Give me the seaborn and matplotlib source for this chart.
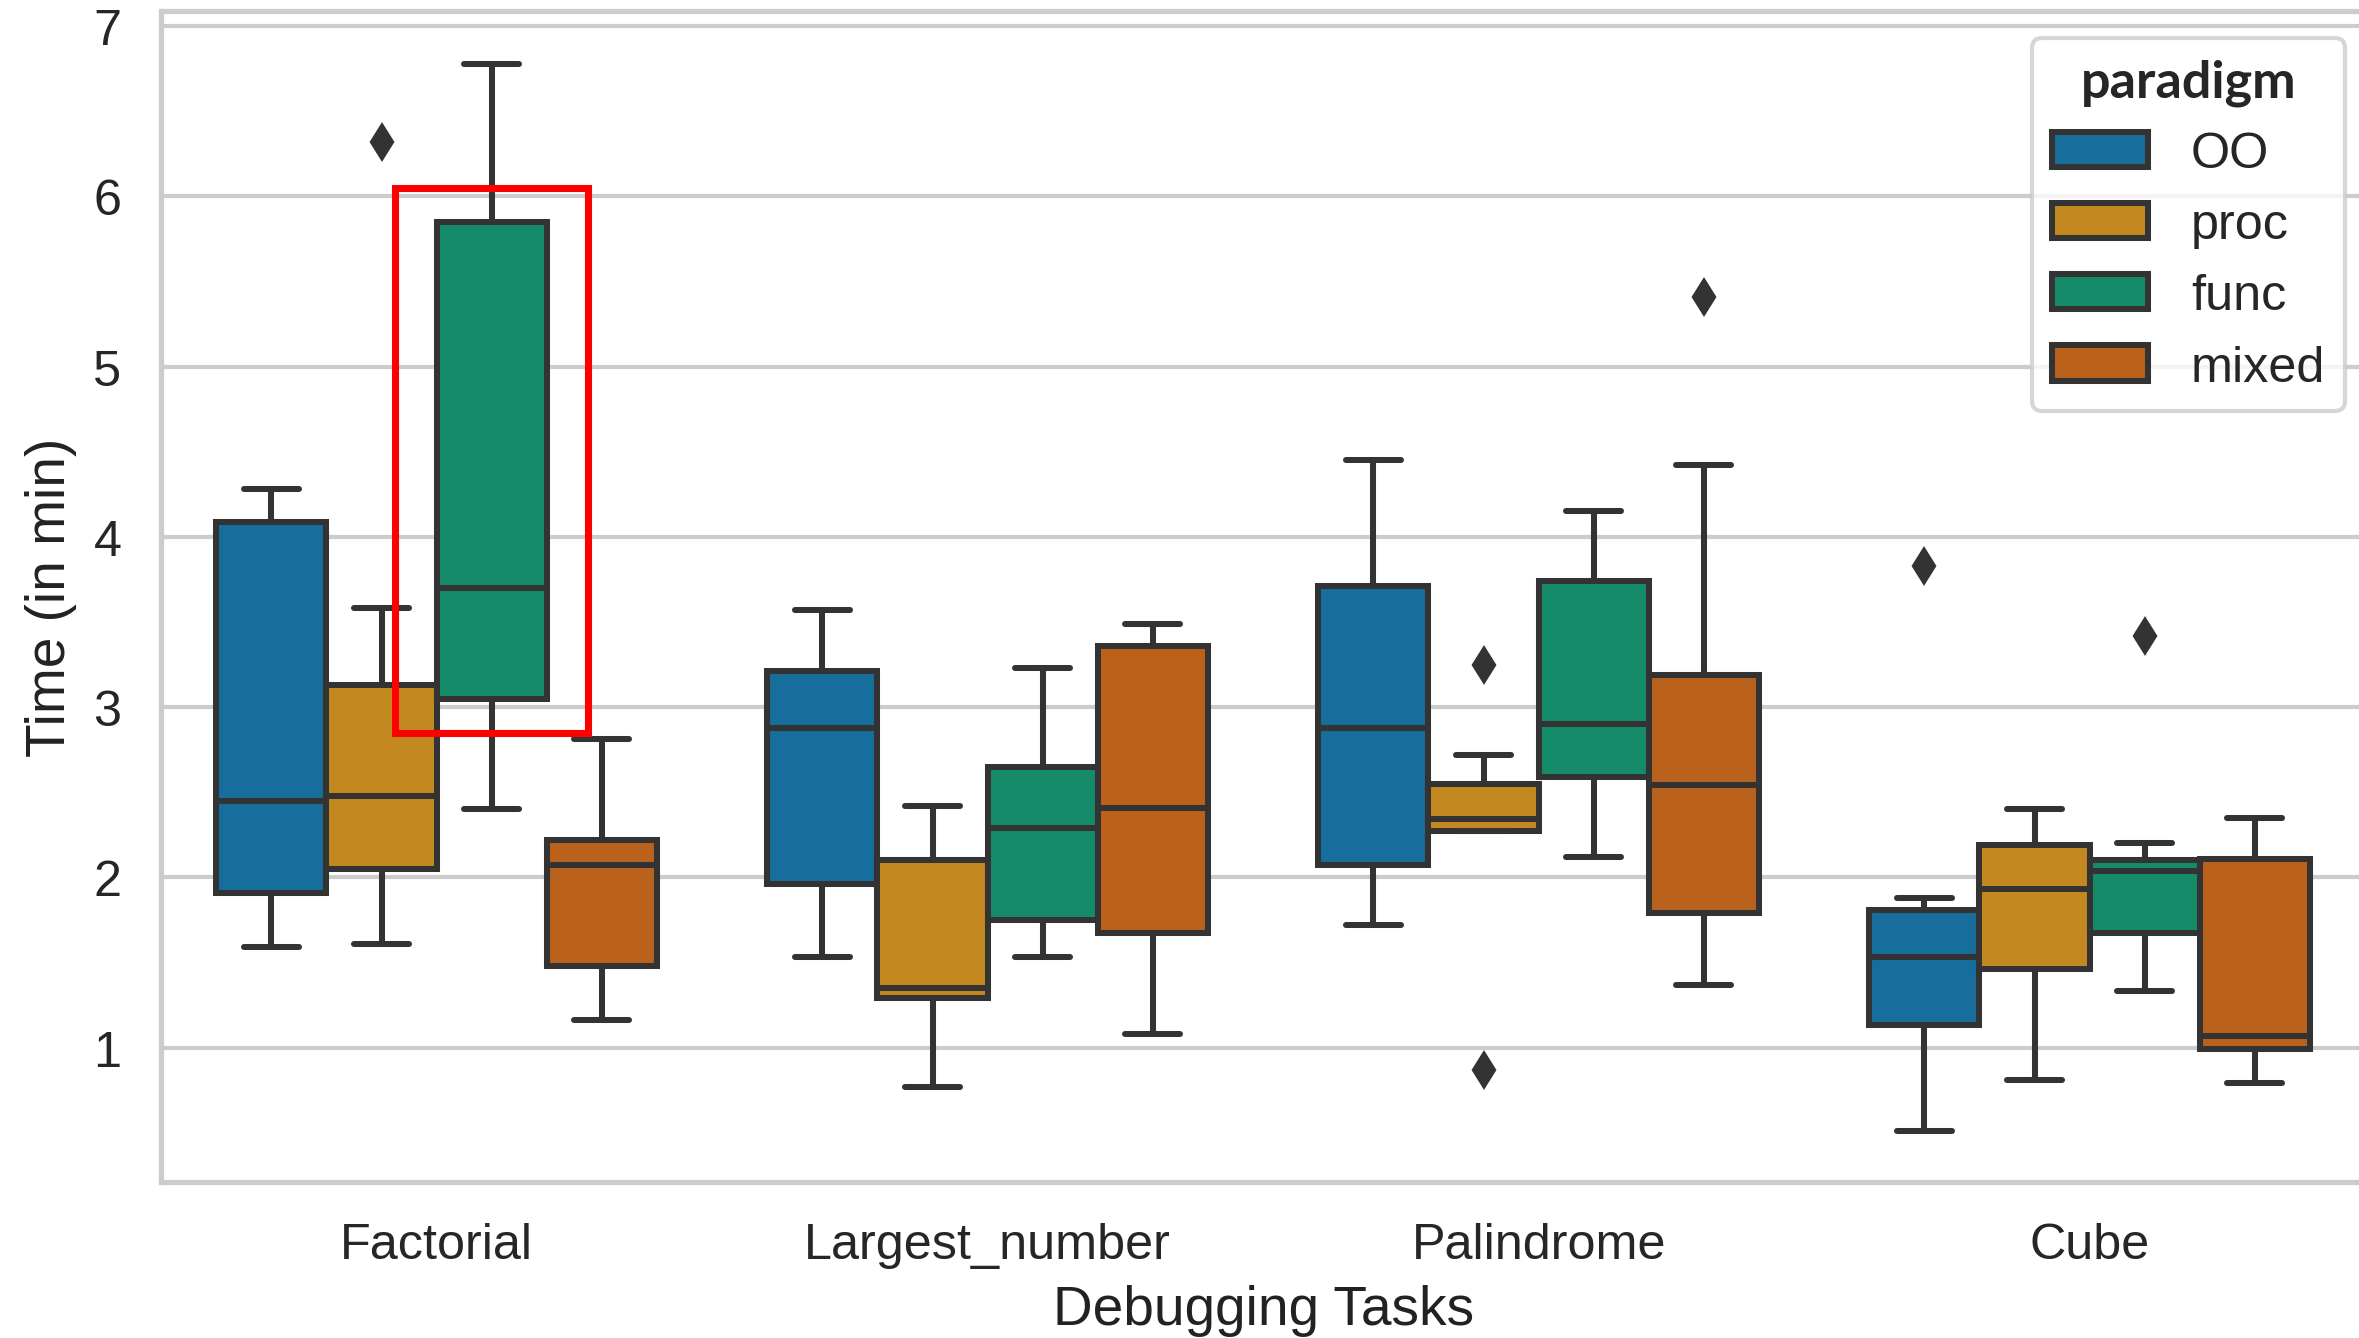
import pandas as pd
import matplotlib.pyplot as plt
import matplotlib.patches as mpatches
import seaborn as sns

tasks = ["Factorial", "Largest_number", "Palindrome", "Cube"]
paradigms = ["OO", "proc", "func", "mixed"]

# box stats, one value per task
# (whisker low, q1, median, q3, whisker high, outliers)
oo_lo = [1.59, 1.53, 1.72, 0.51]
oo_q1 = [1.91, 1.96, 2.07, 1.13]
oo_med = [2.45, 2.88, 2.88, 1.53]
oo_q3 = [4.09, 3.21, 3.71, 1.81]
oo_hi = [4.28, 3.57, 4.45, 1.88]
oo_out = [[], [], [], [3.83]]

proc_lo = [1.61, 0.77, 2.27, 0.81]
proc_q1 = [2.05, 1.29, 2.27, 1.46]
proc_med = [2.48, 1.35, 2.34, 1.93]
proc_q3 = [3.13, 2.10, 2.55, 2.19]
proc_hi = [3.58, 2.42, 2.72, 2.40]
proc_out = [[6.32], [], [0.87, 3.25], []]

func_lo = [2.40, 1.53, 2.12, 1.33]
func_q1 = [3.05, 1.75, 2.59, 1.67]
func_med = [3.70, 2.29, 2.90, 2.04]
func_q3 = [5.85, 2.65, 3.74, 2.10]
func_hi = [6.78, 3.23, 4.15, 2.20]
func_out = [[], [], [], [3.42]]

mixed_lo = [1.16, 1.08, 1.37, 0.79]
mixed_q1 = [1.48, 1.67, 1.79, 0.99]
mixed_med = [2.07, 2.41, 2.54, 1.07]
mixed_q3 = [2.22, 3.36, 3.19, 2.11]
mixed_hi = [2.81, 3.49, 4.42, 2.35]
mixed_out = [[], [], [5.41], []]

stats = {
    "OO": (oo_lo, oo_q1, oo_med, oo_q3, oo_hi, oo_out),
    "proc": (proc_lo, proc_q1, proc_med, proc_q3, proc_hi, proc_out),
    "func": (func_lo, func_q1, func_med, func_q3, func_hi, func_out),
    "mixed": (mixed_lo, mixed_q1, mixed_med, mixed_q3, mixed_hi, mixed_out),
}


def sample(lo, q1, med, q3, hi, outs):
    # 9 values -> quartiles land exactly on positions 2, 4, 6
    low_outs = sorted(v for v in outs if v < q1)
    high_outs = sorted(v for v in outs if v > q3)
    lower = (low_outs + [lo, lo])[:2]
    upper = ([hi, hi] + high_outs)[-2:]
    return lower + [q1, med, med, med, q3] + upper


rows = []
for p in paradigms:
    lo, q1, med, q3, hi, out = stats[p]
    for i, t in enumerate(tasks):
        for v in sample(lo[i], q1[i], med[i], q3[i], hi[i], out[i]):
            rows.append({"task": t, "paradigm": p, "time": v})
df = pd.DataFrame(rows)

sns.set_theme(style="whitegrid", font_scale=1.1)
plt.rcParams["font.family"] = ["Liberation Sans", "DejaVu Sans"]

fig = plt.figure(figsize=(2359 / 300, 1339 / 300), dpi=300)
ax = fig.add_axes([0.0683, 0.1165, 0.9343, 0.8746])

sns.boxplot(data=df, x="task", y="time", hue="paradigm", order=tasks,
            hue_order=paradigms, palette="colorblind", linecolor="#333333",
            linewidth=1.45, fliersize=5.5,
            flierprops=dict(marker="d", markerfacecolor="#333333",
                            markeredgecolor="#333333"),
            ax=ax)

ax.set_ylim(0.21, 7.09)
ax.set_xlim(-0.5, 3.5)
ax.set_xlabel("Debugging Tasks", color="#222222")
ax.set_ylabel("Time (in min)", color="#222222")

# highlight box around Factorial / func
ax.add_patch(mpatches.Rectangle((-0.076, 2.85), 0.35, 3.2, fill=False,
                                edgecolor="red", linewidth=1.7, zorder=5))

leg = ax.legend(title="paradigm", loc="upper right", borderaxespad=0.75,
                bbox_to_anchor=(1.0082, 1.009),
                handlelength=1.9, handletextpad=0.85, labelspacing=0.5)
leg.get_title().set_fontfamily("Lato")
leg.get_title().set_fontweight("bold")
leg.get_title().set_fontsize(12.5)

fig.savefig("out.png", dpi=300)
